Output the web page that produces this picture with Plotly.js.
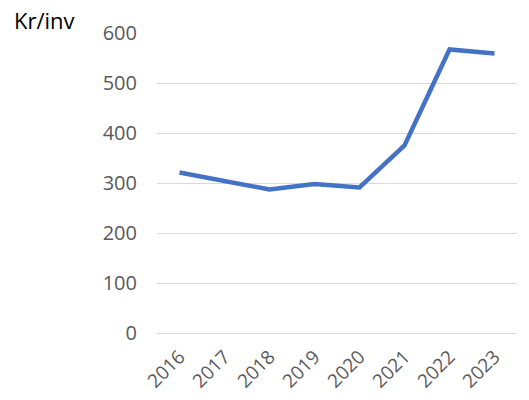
<!DOCTYPE html>
<html>
<head>
<meta charset="utf-8">
<script src="https://cdn.plot.ly/plotly-3.0.1.min.js"></script>
<style>
  html, body { margin: 0; padding: 0; background: #fff; }
  #chart { width: 529px; height: 400px; }
</style>
</head>
<body>
<div id="chart"></div>
<script>
const years = ["2016", "2017", "2018", "2019", "2020", "2021", "2022", "2023"];
const krPerInv = [321, 304, 287, 298, 291, 375, 567, 559];
const yTicks = [0, 100, 200, 300, 400, 500, 600];

const data = [{
    x: years,
    y: krPerInv,
    type: "scatter",
    mode: "lines",
    line: { color: "#4472C4", width: 4.5 },
    hoverinfo: "x+y"
}];

const layout = {
    width: 529,
    height: 400,
    margin: { l: 157, r: 12, t: 33, b: 67 },
    paper_bgcolor: "#ffffff",
    plot_bgcolor: "#ffffff",
    font: { family: "Open Sans, Liberation Sans, sans-serif", color: "#595959", size: 16 },
    showlegend: false,
    xaxis: {
        type: "category",
        range: [-0.5, 7.5],
        tickangle: -45,
        showgrid: false,
        showline: false,
        zeroline: false,
        ticks: "",
        ticklabelstandoff: 8,
        tickfont: { size: 19, color: "#595959" }
    },
    yaxis: {
        range: [0, 600],
        tickvals: yTicks,
        showgrid: true,
        gridcolor: "#D9D9D9",
        gridwidth: 1,
        zeroline: true,
        zerolinecolor: "#D9D9D9",
        zerolinewidth: 1,
        showline: false,
        ticks: "",
        ticklabelstandoff: 19,
        tickfont: { size: 20, color: "#595959" }
    },
    annotations: [{
        text: "Kr/inv",
        xref: "paper", yref: "paper",
        x: -157 / 360, y: 1 + 33 / 300,
        xanchor: "left", yanchor: "top",
        xshift: 12, yshift: -3,
        showarrow: false,
        font: { size: 22, color: "#000000" }
    }]
};

Plotly.newPlot("chart", data, layout, { displayModeBar: false, staticPlot: true });
</script>
</body>
</html>
